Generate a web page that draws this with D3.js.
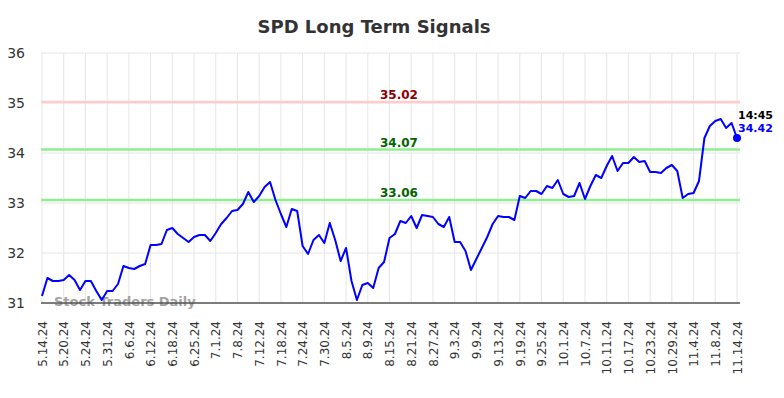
<!DOCTYPE html>
<html>
<head>
<meta charset="utf-8">
<script src="https://cdn.jsdelivr.net/npm/d3@7"></script>
<style>
  body { margin: 0; background: #fff; }
  svg { font-family: "DejaVu Sans", sans-serif; }
</style>
</head>
<body>
<div id="chart"></div>
<script>
const dates = [
    '5.14.24', '5.15.24', '5.16.24', '5.17.24', '5.20.24', '5.21.24', '5.22.24', '5.23.24', '5.24.24', '5.28.24', '5.29.24', '5.30.24', '5.31.24',
    '6.3.24', '6.4.24', '6.5.24', '6.6.24', '6.7.24', '6.10.24', '6.11.24', '6.12.24', '6.13.24', '6.14.24', '6.17.24', '6.18.24', '6.20.24',
    '6.21.24', '6.24.24', '6.25.24', '6.26.24', '6.27.24', '6.28.24', '7.1.24', '7.2.24', '7.3.24', '7.5.24', '7.8.24', '7.9.24', '7.10.24',
    '7.11.24', '7.12.24', '7.15.24', '7.16.24', '7.17.24', '7.18.24', '7.19.24', '7.22.24', '7.23.24', '7.24.24', '7.25.24', '7.26.24', '7.29.24',
    '7.30.24', '7.31.24', '8.1.24', '8.2.24', '8.5.24', '8.6.24', '8.7.24', '8.8.24', '8.9.24', '8.12.24', '8.13.24', '8.14.24', '8.15.24',
    '8.16.24', '8.19.24', '8.20.24', '8.21.24', '8.22.24', '8.23.24', '8.26.24', '8.27.24', '8.28.24', '8.29.24', '8.30.24', '9.3.24', '9.4.24',
    '9.5.24', '9.6.24', '9.9.24', '9.10.24', '9.11.24', '9.12.24', '9.13.24', '9.16.24', '9.17.24', '9.18.24', '9.19.24', '9.20.24', '9.23.24',
    '9.24.24', '9.25.24', '9.26.24', '9.27.24', '9.30.24', '10.1.24', '10.2.24', '10.3.24', '10.4.24', '10.7.24', '10.8.24', '10.9.24', '10.10.24',
    '10.11.24', '10.14.24', '10.15.24', '10.16.24', '10.17.24', '10.18.24', '10.21.24', '10.22.24', '10.23.24', '10.24.24', '10.25.24', '10.28.24',
    '10.29.24', '10.30.24', '10.31.24', '11.1.24', '11.4.24', '11.5.24', '11.6.24', '11.7.24', '11.8.24', '11.11.24', '11.12.24', '11.13.24', '11.14.24'
];

const prices = [
    31.14, 31.50, 31.44, 31.44, 31.46, 31.56, 31.46, 31.26, 31.44, 31.44, 31.24, 31.06, 31.24,
    31.24, 31.38, 31.74, 31.70, 31.68, 31.74, 31.78, 32.16, 32.16, 32.18, 32.46, 32.50, 32.38,
    32.30, 32.22, 32.32, 32.36, 32.36, 32.24, 32.40, 32.58, 32.70, 32.84, 32.86, 32.98, 33.22,
    33.02, 33.14, 33.32, 33.42, 33.06, 32.78, 32.52, 32.88, 32.84, 32.14, 31.98, 32.26, 32.36,
    32.20, 32.60, 32.26, 31.84, 32.10, 31.44, 31.06, 31.36, 31.40, 31.30, 31.70, 31.82, 32.30,
    32.38, 32.64, 32.60, 32.74, 32.50, 32.76, 32.74, 32.72, 32.58, 32.52, 32.72, 32.22, 32.22,
    32.04, 31.66, 31.88, 32.10, 32.32, 32.58, 32.74, 32.72, 32.72, 32.66, 33.14, 33.10, 33.24,
    33.24, 33.18, 33.34, 33.30, 33.46, 33.18, 33.12, 33.14, 33.40, 33.08, 33.34, 33.56, 33.50,
    33.74, 33.94, 33.64, 33.80, 33.80, 33.92, 33.82, 33.84, 33.62, 33.62, 33.60, 33.70, 33.76,
    33.64, 33.10, 33.18, 33.20, 33.44, 34.30, 34.54, 34.64, 34.68, 34.50, 34.60, 34.30
];

// every fourth trading day gets a label
const tickLabels = dates.filter((d, i) => i % 4 === 0);
const yTicks = [31, 32, 33, 34, 35, 36];

const signalLevels = [35.02, 34.07, 33.06];
const signalKinds = ['resistance', 'support', 'support'];
const lastTime = '14:45';
const lastQuote = 34.42;

const width = 784, height = 398;
const plotLeft = 41, plotRight = 740, plotTop = 53, plotBottom = 303;

const svg = d3.select('#chart').append('svg')
    .attr('width', width)
    .attr('height', height);

const x = d3.scalePoint()
    .domain(dates)
    .range([42, 737]);

const y = d3.scaleLinear()
    .domain([31, 36])
    .range([plotBottom, plotTop]);

// title
svg.append('text')
    .attr('x', 374)
    .attr('y', 33)
    .attr('text-anchor', 'middle')
    .attr('font-size', 18)
    .attr('font-weight', 'bold')
    .attr('fill', '#333')
    .text('SPD Long Term Signals');

// grid
svg.append('g')
    .selectAll('line')
    .data(yTicks)
    .enter().append('line')
    .attr('x1', plotLeft).attr('x2', plotRight)
    .attr('y1', d => y(d)).attr('y2', d => y(d))
    .attr('stroke', '#e6e6e6')
    .attr('stroke-width', 1);

svg.append('g')
    .selectAll('line')
    .data(tickLabels)
    .enter().append('line')
    .attr('x1', d => x(d)).attr('x2', d => x(d))
    .attr('y1', plotTop).attr('y2', plotBottom)
    .attr('stroke', '#e6e6e6')
    .attr('stroke-width', 1);

// y axis labels
const yAxis = svg.append('g')
    .attr('transform', `translate(${plotLeft - 16},0)`)
    .call(d3.axisLeft(y).tickValues(yTicks).tickSize(0).tickPadding(0).tickFormat(d3.format('d')));
yAxis.select('.domain').remove();
yAxis.selectAll('text')
    .attr('font-family', '"DejaVu Sans", sans-serif')
    .attr('font-size', 14)
    .attr('fill', '#333');

// watermark
svg.append('text')
    .attr('x', 54)
    .attr('y', 306)
    .attr('font-size', 13)
    .attr('font-weight', 'bold')
    .attr('fill', '#999')
    .attr('opacity', 0.9)
    .text('Stock Traders Daily');

// x axis
const xAxis = svg.append('g')
    .attr('transform', `translate(0,${plotBottom})`)
    .call(d3.axisBottom(x).tickValues(tickLabels).tickSize(0));
xAxis.select('.domain')
    .attr('d', `M${plotLeft},0H${plotRight}`)
    .attr('stroke', '#555')
    .attr('stroke-width', 1.5);
xAxis.selectAll('text')
    .attr('font-family', '"DejaVu Sans", sans-serif')
    .attr('font-size', 12)
    .attr('fill', '#333')
    .attr('text-anchor', 'end')
    .attr('dy', '0.35em')
    .attr('transform', 'translate(0,18) rotate(-90)')
    .attr('x', 0)
    .attr('y', 0);

// signal lines
const signals = svg.append('g');
signalLevels.forEach((v, i) => {
    const res = signalKinds[i] === 'resistance';
    signals.append('line')
        .attr('x1', plotLeft).attr('x2', plotRight)
        .attr('y1', y(v)).attr('y2', y(v))
        .attr('stroke', res ? '#ffcccc' : '#90ee90')
        .attr('stroke-width', 2.5);
    signals.append('text')
        .attr('x', 399)
        .attr('y', y(v) - 3)
        .attr('text-anchor', 'middle')
        .attr('font-size', 12)
        .attr('font-weight', 'bold')
        .attr('fill', res ? '#8b0000' : '#006400')
        .text(v.toFixed(2));
});

// price line
const line = d3.line()
    .x((d, i) => x(dates[i]))
    .y(d => y(d));

svg.append('path')
    .datum(prices)
    .attr('d', line)
    .attr('fill', 'none')
    .attr('stroke', '#0000ff')
    .attr('stroke-width', 2)
    .attr('stroke-linejoin', 'round');

// last point
const lastDate = dates[dates.length - 1];
const lastPrice = prices[prices.length - 1];
svg.append('circle')
    .attr('cx', x(lastDate))
    .attr('cy', y(lastPrice))
    .attr('r', 4)
    .attr('fill', '#0000ff');

svg.append('text')
    .attr('x', x(lastDate) + 1)
    .attr('y', y(lastPrice) - 19)
    .attr('font-size', 11)
    .attr('font-weight', 'bold')
    .attr('fill', '#000')
    .text(lastTime);

svg.append('text')
    .attr('x', x(lastDate) + 1)
    .attr('y', y(lastPrice) - 6)
    .attr('font-size', 11)
    .attr('font-weight', 'bold')
    .attr('fill', '#0000ff')
    .text(lastQuote.toFixed(2));
</script>
</body>
</html>
